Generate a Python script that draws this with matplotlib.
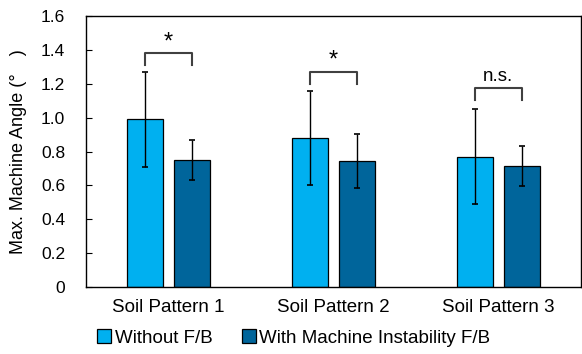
import matplotlib.pyplot as plt
import numpy as np

plt.rcParams['font.family'] = ['Liberation Sans', 'Noto Sans CJK JP', 'DejaVu Sans']

categories = ["Soil Pattern 1", "Soil Pattern 2", "Soil Pattern 3"]
without_fb = [0.99, 0.88, 0.77]
without_err = [0.28, 0.275, 0.28]
with_fb = [0.75, 0.745, 0.715]
with_err = [0.12, 0.16, 0.12]
sig_labels = ["*", "*", "n.s."]
bracket_tops = [1.38, 1.27, 1.175]

fig = plt.figure(figsize=(5.82, 3.54), dpi=100)
ax = fig.add_axes([0.148, 0.189, 0.85, 0.766])

x = np.arange(len(categories))
bar_width = 0.22
offset = 0.143

ax.bar(x - offset, without_fb, bar_width, color="#00B0F0", edgecolor="black",
       linewidth=0.9, label="Without F/B")
ax.bar(x + offset, with_fb, bar_width, color="#00659B", edgecolor="black",
       linewidth=0.9, label="With Machine Instability F/B")
ax.errorbar(x - offset, without_fb, yerr=without_err, fmt="none", ecolor="black",
            elinewidth=1, capsize=2.5, capthick=1.2)
ax.errorbar(x + offset, with_fb, yerr=with_err, fmt="none", ecolor="black",
            elinewidth=1, capsize=2.5, capthick=1.2)

# significance brackets
for i in range(len(categories)):
    top = bracket_tops[i]
    ax.plot([x[i] - offset, x[i] - offset, x[i] + offset, x[i] + offset],
            [top - 0.07, top, top, top - 0.07], color="#404040", linewidth=1.5)
    if sig_labels[i] == "*":
        ax.text(x[i], top + 0.0, "*", ha="center", va="bottom", fontsize=17)
    else:
        ax.text(x[i], top + 0.02, sig_labels[i], ha="center", va="bottom", fontsize=13.5)

ax.set_xlim(-0.5, 2.5)
ax.set_ylim(0, 1.6)
ax.set_yticks(np.arange(0, 1.61, 0.2))
ax.set_yticklabels(["0"] + ["{:.1f}".format(v) for v in np.arange(0.2, 1.61, 0.2)])
ax.set_xticks(x)
ax.set_xticklabels(categories)
ax.tick_params(axis="y", direction="in", length=4, labelsize=12.5, pad=15)
ax.tick_params(axis="x", length=0, labelsize=13.5, pad=8.5)
for s in ax.spines.values():
    s.set_linewidth(1.0)
ax.set_ylabel("Max. Machine Angle (°\u3000)", fontsize=13)
ax.yaxis.set_label_coords(-0.12, 0.5)

fig.legend(loc="center left", bbox_to_anchor=(0.1667, 0.045), ncol=2, frameon=False,
           fontsize=13.5, handlelength=0.75, handleheight=0.75, handletextpad=0.2,
           columnspacing=1.55, borderpad=0, borderaxespad=0)

fig.savefig("out.png", dpi=100)
